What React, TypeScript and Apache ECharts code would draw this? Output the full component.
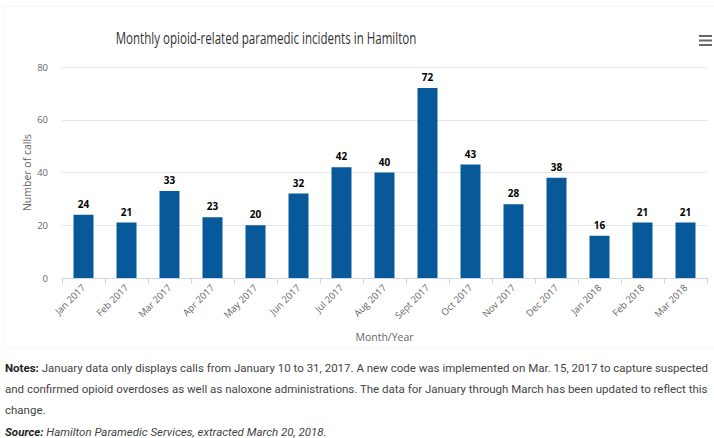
import React, { useEffect, useRef } from "react";
import * as echarts from "echarts";

const months = [
  "Jan 2017", "Feb 2017", "Mar 2017", "Apr 2017", "May 2017", "Jun 2017",
  "Jul 2017", "Aug 2017", "Sept 2017", "Oct 2017", "Nov 2017", "Dec 2017",
  "Jan 2018", "Feb 2018", "Mar 2018",
];
const calls = [24, 21, 33, 23, 20, 32, 42, 40, 72, 43, 28, 38, 16, 21, 21];
const yTicks = { min: 0, max: 80, interval: 20 };

const titleText = "Monthly opioid-related paramedic incidents in Hamilton";
const noteLines = [
  "January data only displays calls from January 10 to 31, 2017. A new code was implemented on Mar. 15, 2017 to capture suspected",
  "and confirmed opioid overdoses as well as naloxone administrations. The data for January through March has been updated to reflect this",
  "change.",
];
const sourceText = "Hamilton Paramedic Services, extracted March 20, 2018.";

export default function App() {
  const ref = useRef<HTMLDivElement>(null);
  useEffect(() => {
    if (!ref.current) return;
    const chart = echarts.init(ref.current, null, { renderer: "svg" });
    const noteFont = "Roboto, 'Noto Sans', sans-serif";
    chart.setOption({
      animation: false,
      backgroundColor: "#ffffff",
      grid: { left: 62, right: 7, top: 67, bottom: 160, containLabel: false },
      xAxis: {
        type: "category",
        data: months,
        name: "Month/Year",
        nameLocation: "middle",
        nameGap: 59,
        nameMoveOverlap: false,
        nameTextStyle: { color: "#666666", fontSize: 10.5, fontFamily: "'Open Sans', sans-serif", verticalAlign: "middle" },
        axisLine: { lineStyle: { color: "#ccd6eb" } },
        axisTick: { show: true, alignWithLabel: false, length: 6, lineStyle: { color: "#ccd6eb" } },
        axisLabel: {
          interval: 0,
          rotate: 45,
          fontSize: 9.5,
          color: "#666666",
          margin: 8,
          fontFamily: "'Open Sans', sans-serif",
        },
      },
      yAxis: {
        type: "value",
        min: yTicks.min,
        max: yTicks.max,
        interval: yTicks.interval,
        name: "Number of calls",
        nameLocation: "middle",
        nameGap: 35,
        nameMoveOverlap: false,
        nameTextStyle: { color: "#666666", fontSize: 10.5, fontFamily: "'Open Sans', sans-serif", verticalAlign: "middle" },
        axisLine: { show: false },
        axisTick: { show: false },
        axisLabel: { color: "#666666", fontSize: 9.5, margin: 14, fontFamily: "'Open Sans', sans-serif" },
        splitLine: { lineStyle: { color: "#e6e6e6" } },
      },
      series: [
        {
          type: "bar",
          data: calls,
          barWidth: 20,
          itemStyle: { color: "#07599a" },
          label: {
            show: true,
            position: "top",
            distance: 6,
            color: "#000000",
            fontWeight: "bold",
            fontSize: 10,
            fontFamily: "'Open Sans', sans-serif",
          },
        },
      ],
      graphic: [
        {
          type: "text",
          x: 266,
          y: 38,
          scaleX: 0.7,
          style: {
            text: titleText,
            fill: "#333333",
            fontSize: 16.5,
            fontFamily: "'Open Sans', sans-serif",
            textAlign: "center",
            textVerticalAlign: "middle",
          },
        },
        { type: "rect", shape: { x: 699, y: 35, width: 13, height: 2 }, style: { fill: "#666666" } },
        { type: "rect", shape: { x: 699, y: 39.5, width: 13, height: 2 }, style: { fill: "#666666" } },
        { type: "rect", shape: { x: 699, y: 44, width: 13, height: 2 }, style: { fill: "#666666" } },
        {
          type: "rect",
          shape: { x: 4.5, y: 6.5, width: 720, height: 342 },
          style: { fill: "none", stroke: "#f6f6f6", lineWidth: 1 },
          silent: true,
        },
        {
          type: "text",
          x: 5,
          y: 357.5,
          style: {
            text: "{b|Notes:} " + noteLines[0] + "\n" + noteLines[1] + "\n" + noteLines[2],
            fill: "#444444",
            fontSize: 11.5,
            fontFamily: noteFont,
            lineHeight: 21,
            textVerticalAlign: "top",
            rich: {
              b: { fontWeight: "bold", fill: "#222222", fontSize: 11.5, fontFamily: noteFont, lineHeight: 21 },
            },
          },
        },
        {
          type: "text",
          x: 5,
          y: 432,
          style: {
            text: "{b|Source:} {i|" + sourceText + "}",
            fill: "#444444",
            fontSize: 11.5,
            fontFamily: noteFont,
            textVerticalAlign: "middle",
            rich: {
              b: { fontWeight: "bold", fontStyle: "italic", fill: "#222222", fontSize: 11.5, fontFamily: noteFont },
              i: { fontStyle: "italic", fill: "#444444", fontSize: 11.5, fontFamily: noteFont },
            },
          },
        },
      ],
    });
    return () => chart.dispose();
  }, []);
  return (
    <div
      ref={ref}
      style={{ position: "absolute", left: 0, top: 0, width: 714, height: 438 }}
    />
  );
}
